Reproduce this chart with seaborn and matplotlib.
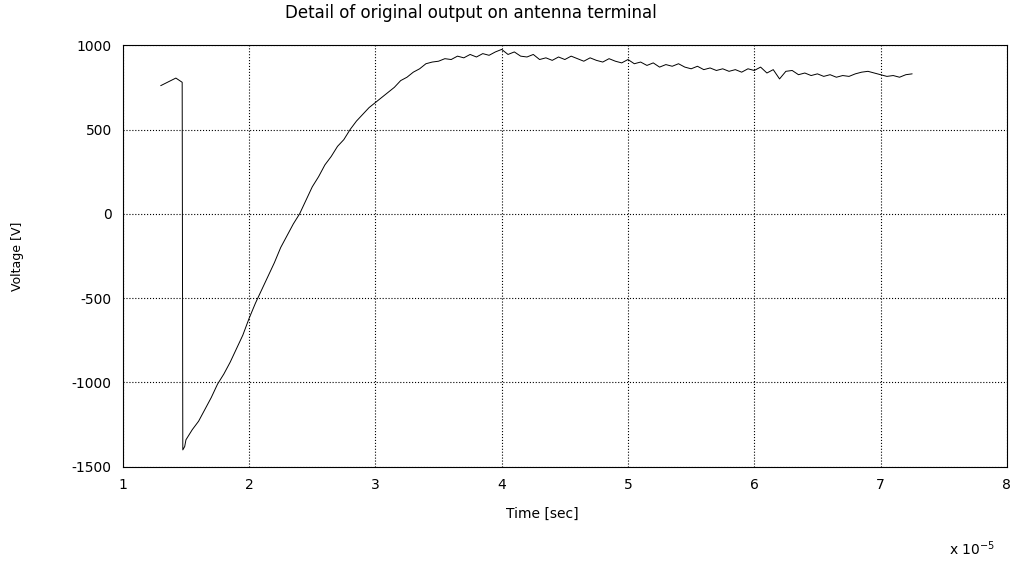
import numpy as np
import pandas as pd
import matplotlib
matplotlib.use("Agg")
import matplotlib.pyplot as plt
import seaborn as sns

# time in units of 1e-5 sec, voltage in V
time_e5 = [1.30, 1.34, 1.38, 1.42, 1.45, 1.47, 1.475, 1.49,
           1.50, 1.55, 1.60, 1.65, 1.70, 1.75, 1.80, 1.85, 1.90, 1.95,
           2.00, 2.05, 2.10, 2.15, 2.20, 2.25, 2.30, 2.35, 2.40, 2.45,
           2.50, 2.55, 2.60, 2.65, 2.70, 2.75, 2.80, 2.85, 2.90, 2.95,
           3.00, 3.05, 3.10, 3.15, 3.20, 3.25, 3.30, 3.35, 3.40, 3.45,
           3.50, 3.55, 3.60, 3.65, 3.70, 3.75, 3.80, 3.85, 3.90, 3.95,
           4.00, 4.05, 4.10, 4.15, 4.20, 4.25, 4.30, 4.35, 4.40, 4.45,
           4.50, 4.55, 4.60, 4.65, 4.70, 4.75, 4.80, 4.85, 4.90, 4.95,
           5.00, 5.05, 5.10, 5.15, 5.20, 5.25, 5.30, 5.35, 5.40, 5.45,
           5.50, 5.55, 5.60, 5.65, 5.70, 5.75, 5.80, 5.85, 5.90, 5.95,
           6.00, 6.05, 6.10, 6.15, 6.20, 6.25, 6.30, 6.35, 6.40, 6.45,
           6.50, 6.55, 6.60, 6.65, 6.70, 6.75, 6.80, 6.85, 6.90, 6.95,
           7.00, 7.05, 7.10, 7.15, 7.20, 7.25]
voltage = [760, 775, 790, 805, 790, 780, -1400, -1380,
           -1340, -1280, -1230, -1160, -1090, -1010, -950, -880, -800, -720,
           -620, -530, -450, -370, -290, -200, -130, -60, 0, 80,
           160, 220, 290, 340, 400, 440, 500, 550, 590, 630,
           660, 690, 720, 750, 790, 810, 840, 860, 890, 900,
           905, 920, 915, 935, 925, 945, 930, 950, 940, 960,
           975, 945, 960, 935, 930, 945, 915, 925, 910, 930,
           915, 935, 920, 905, 925, 910, 900, 920, 905, 895,
           915, 890, 900, 880, 895, 870, 885, 875, 890, 870,
           860, 875, 855, 865, 850, 860, 845, 855, 840, 860,
           850, 870, 835, 855, 800, 845, 850, 825, 835, 820,
           830, 815, 825, 810, 820, 815, 830, 840, 845, 835,
           825, 815, 820, 810, 825, 830]

x_ticks = [1, 2, 3, 4, 5, 6, 7, 8]
y_ticks = [-1500, -1000, -500, 0, 500, 1000]

df = pd.DataFrame({"t": time_e5, "v": voltage})

sns.set_style("white")
plt.rcParams["font.family"] = ["DejaVu Sans"]
plt.rcParams["text.color"] = "black"
plt.rcParams["axes.labelcolor"] = "black"
plt.rcParams["xtick.color"] = "black"
plt.rcParams["ytick.color"] = "black"

fig = plt.figure(figsize=(10.15, 5.72), dpi=100)
ax = fig.add_axes([0.121, 0.184, 0.871, 0.737])

sns.lineplot(data=df, x="t", y="v", estimator=None, sort=False,
             color="black", linewidth=0.7, ax=ax)

ax.set_xlim(1, 8)
ax.set_ylim(-1500, 1000)
ax.set_xticks(x_ticks)
ax.set_yticks(y_ticks)
ax.set_xticklabels([str(x) for x in x_ticks], fontsize=10)
ax.set_yticklabels([str(y) for y in y_ticks], fontsize=10)
ax.tick_params(direction="in", length=4, color="black", pad=8)
ax.grid(True, color="black", linestyle=":", linewidth=0.8)
for s in ax.spines.values():
    s.set_color("black")
    s.set_linewidth(0.8)

ax.set_xlabel("Time [sec]", fontsize=10)
ax.xaxis.set_label_coords(0.475, -0.095)
ax.set_ylabel("Voltage [V]", fontsize=9)
ax.yaxis.set_label_coords(-0.112, 0.5)
fig.text(0.464, 0.978, "Detail of original output on antenna terminal",
         ha="center", va="center", fontsize=12)
fig.text(0.935, 0.04, r"x 10$^{-5}$", ha="left", va="center", fontsize=10)

fig.savefig("out.png", dpi=100, facecolor="white")
